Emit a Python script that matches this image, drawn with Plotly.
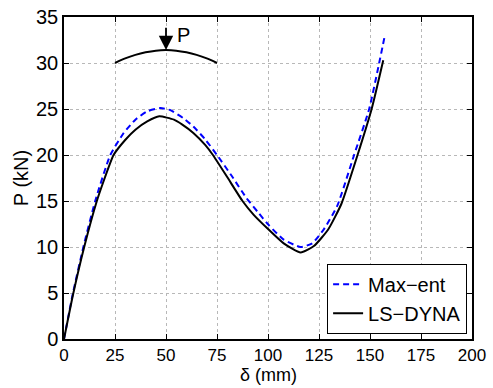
import plotly.graph_objects as go

# LS-DYNA reference curve
dyna_x = [0, 4.6, 9.9, 16.1, 19.1, 24.3, 30.1, 35.0, 40.8, 46.7, 53.9, 58.0, 63.4, 69.2, 73.0, 80.0, 87.5, 93.0, 100.3, 107.7, 116.0, 122.5, 129.5, 136.0, 143.9, 150.8, 156.5]
dyna_y = [0, 5, 10, 15, 16.96, 20, 21.66, 22.75, 23.65, 24.2, 23.84, 23.3, 22.4, 21.1, 20.0, 17.6, 15.0, 13.5, 11.9, 10.4, 9.4, 10.1, 11.9, 14.7, 20, 25, 30.3]

# Max-ent curve
maxent_x = [0, 4.4, 9.5, 15.3, 22.7, 29.3, 35.0, 40.8, 47.3, 51.9, 58.5, 63.4, 69.2, 75.0, 82.0, 89.5, 95.0, 100.3, 107.7, 116.0, 121.7, 127.6, 134.0, 142.2, 149.6, 154.5, 157.0]
maxent_y = [0, 5, 10, 15, 20, 22.4, 23.84, 24.75, 25.1, 24.9, 24.0, 23.1, 21.7, 20.0, 17.8, 15.3, 13.8, 12.4, 10.8, 10.0, 10.4, 12.0, 14.5, 20, 25, 30, 32.7]

# beam sketch (arch) and load
arch_x = [25, 30, 35, 40, 45, 50, 55, 60, 65, 70, 75]
arch_y = [30.0, 30.5, 30.88, 31.16, 31.34, 31.4, 31.34, 31.16, 30.88, 30.5, 30.0]
load_x, load_top, load_tip = 50, 34.0, 31.4
load_label = "P"

x_ticks = [0, 25, 50, 75, 100, 125, 150, 175, 200]
y_ticks = [0, 5, 10, 15, 20, 25, 30, 35]
x_title = "\u03b4 (mm)"
y_title = "P (kN)"

FONT = "Liberation Sans, Arial, sans-serif"
FS = 20

fig = go.Figure()
fig.add_trace(go.Scatter(x=arch_x, y=arch_y, mode="lines", line=dict(color="black", width=2, shape="spline"),
                         showlegend=False, hoverinfo="skip"))
fig.add_trace(go.Scatter(x=maxent_x, y=maxent_y, mode="lines", name="Max\u2212ent",
                         line=dict(color="#0000ff", width=2, dash="6px,4px", shape="spline", smoothing=0.5)))
fig.add_trace(go.Scatter(x=dyna_x, y=dyna_y, mode="lines", name="LS\u2212DYNA",
                         line=dict(color="black", width=2, shape="spline", smoothing=0.5)))

fig.add_annotation(x=load_x, y=load_tip, ax=load_x, ay=load_top, xref="x", yref="y", axref="x", ayref="y",
                   showarrow=True, arrowhead=2, arrowsize=1.6, arrowwidth=1.8, arrowcolor="black", text="")
fig.add_annotation(x=load_x + 4.3, y=33.0, xref="x", yref="y", text=load_label, showarrow=False,
                   xanchor="left", yanchor="middle", font=dict(size=FS, color="black", family=FONT))
fig.add_annotation(x=0.5, y=-0.149, xref="paper", yref="paper", text=x_title, showarrow=False,
                   xanchor="center", yanchor="bottom", font=dict(size=18, color="black", family=FONT))

axis_common = dict(showline=True, linecolor="black", linewidth=1.5, mirror="ticks", ticks="inside",
                   ticklen=5, tickcolor="black", showgrid=True, gridcolor="#b8b8b8", griddash="dot",
                   gridwidth=1, zeroline=False, automargin=False)

fig.update_xaxes(range=[0, 200], tickvals=x_ticks, ticktext=[str(v) for v in x_ticks],
                 tickfont=dict(size=17, color="black", family=FONT), **axis_common)
fig.update_yaxes(range=[0, 35], tickvals=y_ticks, ticktext=[str(v) for v in y_ticks],
                 tickfont=dict(size=FS, color="black", family=FONT),
                 title=dict(text=y_title, font=dict(size=FS, color="black", family=FONT), standoff=2),
                 **axis_common)

fig.update_layout(
    width=493, height=388,
    margin=dict(l=64, r=21, t=17, b=49),
    plot_bgcolor="white", paper_bgcolor="white",
    font=dict(family=FONT, color="black"),
    legend=dict(x=0.988, y=0.016, xanchor="right", yanchor="bottom", bgcolor="white",
                bordercolor="black", borderwidth=1, font=dict(size=FS, color="black", family=FONT),
                tracegroupgap=0),
)

fig.write_html("out.html")
